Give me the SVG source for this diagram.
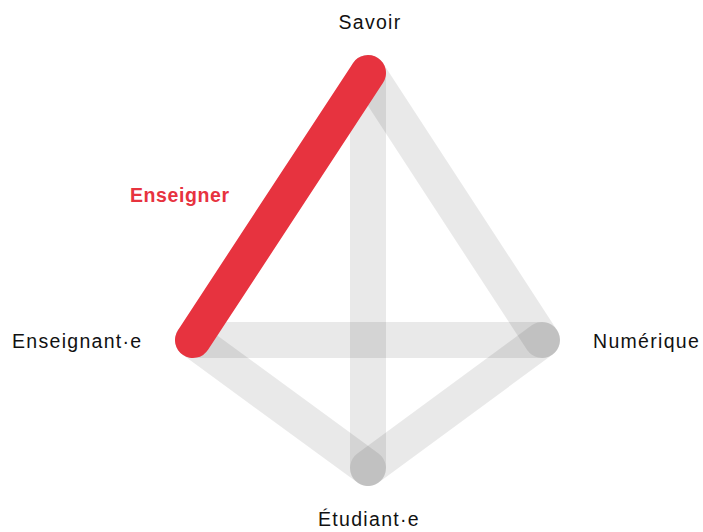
<svg xmlns="http://www.w3.org/2000/svg" width="703" height="532" viewBox="0 0 703 532">
  <style>
    .edge { stroke: #000; stroke-opacity: 0.087; stroke-width: 36; stroke-linecap: round; fill: none; }
    .hl { stroke: #e7333f; stroke-width: 36; stroke-linecap: round; fill: none; }
    .lbl { font-family: "Liberation Sans", Arial, sans-serif; font-size: 19.5px; fill: #111; letter-spacing: 1.3px; }
    .hltxt { font-family: "Liberation Sans", Arial, sans-serif; font-size: 19.5px; font-weight: bold; fill: #e7333f; letter-spacing: 0.6px; }
  </style>
  <rect width="703" height="532" fill="#fff"/>
  <g id="connectors">
    <line class="edge" x1="368" y1="73" x2="368" y2="468"/>
    <line class="edge" x1="368" y1="73" x2="542" y2="340"/>
    <line class="edge" x1="193" y1="340" x2="542" y2="340"/>
    <line class="edge" x1="193" y1="340" x2="368" y2="468"/>
    <line class="edge" x1="542" y1="340" x2="368" y2="468"/>
    <line class="hl" x1="368" y1="73" x2="193" y2="340"/>
    <text class="hltxt" x="130" y="202">Enseigner</text>
  </g>
  <g id="savoir">
    <text class="lbl" x="370" y="29" text-anchor="middle">Savoir</text>
  </g>
  <g id="enseignant">
    <text class="lbl" x="12" y="348">Enseignant·e</text>
  </g>
  <g id="numerique">
    <text class="lbl" x="593" y="348">Numérique</text>
  </g>
  <g id="etudiant">
    <text class="lbl" x="369" y="526" text-anchor="middle">Étudiant·e</text>
  </g>
</svg>
